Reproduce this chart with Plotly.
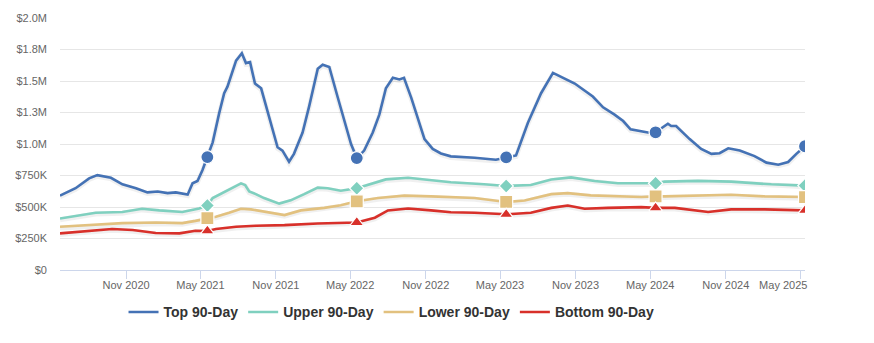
import plotly.graph_objects as go

# ---------------- data ----------------
top_dates = ["2020-05-24","2020-07-01","2020-08-03","2020-08-23","2020-09-25","2020-10-23","2020-11-25",
             "2020-12-23","2021-01-17","2021-02-10","2021-03-02","2021-03-31","2021-04-12","2021-04-24",
             "2021-05-06","2021-05-18","2021-05-31","2021-06-16","2021-06-28","2021-07-06","2021-07-27",
             "2021-08-10","2021-08-20","2021-08-30","2021-09-11","2021-09-26","2021-10-13","2021-11-05",
             "2021-11-17","2021-12-03","2021-12-15","2022-01-05","2022-01-21","2022-02-11","2022-02-23",
             "2022-03-11","2022-03-31","2022-04-21","2022-05-03","2022-05-17","2022-06-04","2022-06-25",
             "2022-07-11","2022-07-27","2022-08-13","2022-08-29","2022-09-09","2022-09-27","2022-10-13",
             "2022-10-29","2022-11-18","2022-12-08","2023-01-01","2023-02-28","2023-04-21","2023-05-16",
             "2023-06-09","2023-07-08","2023-08-09","2023-09-07","2023-10-05","2023-10-30","2023-12-13",
             "2024-01-07","2024-02-04","2024-02-25","2024-03-14","2024-04-09","2024-04-25","2024-05-14",
             "2024-06-01","2024-06-13","2024-06-21","2024-07-03","2024-08-05","2024-09-02","2024-09-27",
             "2024-10-17","2024-11-07","2024-12-05","2025-01-10","2025-02-08","2025-03-09","2025-04-02",
             "2025-04-22","2025-05-13"]
top_values = [590, 649, 727, 753, 732, 680, 649,
              616, 623, 610, 616, 598, 688, 707,
              792, 896, 1013, 1247, 1403, 1455, 1662,
              1720, 1642, 1650, 1480, 1442, 1247, 974,
              948, 860, 922, 1091, 1299, 1597, 1629,
              1611, 1377, 1130, 1000, 888, 948, 1091,
              1233, 1442, 1525, 1512, 1525, 1364, 1194,
              1039, 961, 925, 902, 891, 875, 894,
              909, 1169, 1403, 1564, 1519, 1480, 1377,
              1291, 1233, 1182, 1117, 1099, 1091, 1093,
              1138, 1161, 1143, 1143, 1039, 961, 922,
              927, 966, 948, 904, 852, 836, 857,
              922, 982]

upper_dates = ["2020-05-24","2020-07-01","2020-08-19","2020-10-23","2020-12-10","2021-01-21","2021-03-18",
               "2021-04-28","2021-05-18","2021-05-31","2021-07-10","2021-08-08","2021-08-18","2021-08-28",
               "2021-09-13","2021-10-03","2021-11-09","2021-12-07","2022-01-09","2022-02-11","2022-03-07",
               "2022-04-08","2022-05-17","2022-06-13","2022-07-27","2022-09-19","2022-11-14","2023-01-01",
               "2023-03-23","2023-05-16","2023-07-15","2023-09-03","2023-10-21","2023-12-17","2024-02-12",
               "2024-04-09","2024-05-14","2024-06-05","2024-08-25","2024-11-14","2025-02-20","2025-05-13"]
upper_values = [408, 429, 454, 460, 486, 473, 460,
                488, 512, 571, 637, 688, 675, 623,
                602, 571, 527, 553, 602, 654, 649,
                629, 649, 675, 719, 732, 714, 696,
                680, 667, 675, 719, 735, 707, 688,
                688, 688, 701, 707, 701, 680, 670]

lower_dates = ["2020-05-24","2020-08-03","2020-10-23","2021-01-12","2021-03-18","2021-04-19","2021-05-18",
               "2021-06-08","2021-07-10","2021-08-08","2021-09-01","2021-09-13","2021-10-12","2021-11-22",
               "2022-01-01","2022-02-27","2022-04-08","2022-05-17","2022-07-08","2022-09-10","2022-11-14",
               "2023-01-01","2023-02-28","2023-05-16","2023-06-30","2023-09-03","2023-10-13","2023-12-08",
               "2024-04-09","2024-05-14","2024-06-05","2024-11-14","2025-02-04","2025-05-13"]
lower_values = [343, 356, 372, 377, 372, 390, 411,
                423, 454, 486, 481, 475, 462, 436,
                473, 493, 514, 545, 571, 590, 584,
                579, 571, 540, 551, 602, 610, 592,
                579, 584, 584, 597, 584, 579]

bottom_dates = ["2020-05-24","2020-08-03","2020-09-28","2020-11-17","2021-01-12","2021-03-11","2021-04-19",
                "2021-05-18","2021-06-08","2021-07-27","2021-09-13","2021-11-22","2022-02-11","2022-05-17",
                "2022-06-30","2022-08-01","2022-09-19","2022-11-14","2023-01-01","2023-02-28","2023-05-16",
                "2023-07-15","2023-09-03","2023-10-13","2023-11-23","2024-01-19","2024-04-09","2024-05-14",
                "2024-06-30","2024-09-19","2024-11-14","2025-02-04","2025-05-13"]
bottom_values = [291, 312, 325, 317, 294, 291, 312,
                 310, 325, 343, 351, 356, 369, 377,
                 415, 473, 488, 473, 458, 454, 442,
                 454, 493, 512, 486, 493, 499, 493,
                 493, 460, 481, 481, 473]

marker_dates = ["2021-05-18", "2022-05-17", "2023-05-16", "2024-05-14", "2025-05-13"]

series_names = ["Top 90-Day", "Upper 90-Day", "Lower 90-Day", "Bottom 90-Day"]
series_colors = ["#4472b5", "#7fd0bf", "#e2c17f", "#d8302a"]
series_symbols = ["circle", "diamond", "square", "triangle-up"]
series_msizes = [13, 11, 13, 12]

y_tickvals = [0, 250000, 500000, 750000, 1000000, 1250000, 1500000, 1750000, 2000000]
y_ticktext = ["$0", "$250K", "$500K", "$750K", "$1.0M", "$1.3M", "$1.5M", "$1.8M", "$2.0M"]

x_tickvals = ["2020-11-01", "2021-05-01", "2021-11-01", "2022-05-01", "2022-11-01",
              "2023-05-01", "2023-11-01", "2024-05-01", "2024-11-01", "2025-05-01"]
x_ticktext = ["Nov 2020", "May 2021", "Nov 2021", "May 2022", "Nov 2022",
              "May 2023", "Nov 2023", "May 2024", "Nov 2024",
              "May 2025" + "\u00a0" * 11]  # last label kept inside the plot edge

# ---------------- figure ----------------
fig = go.Figure()
all_series = [(top_dates, top_values), (upper_dates, upper_values),
              (lower_dates, lower_values), (bottom_dates, bottom_values)]

for (dates, vals), name, color, sym, ms in zip(all_series, series_names, series_colors,
                                                 series_symbols, series_msizes):
    yv = [v * 1000 for v in vals]
    # subtle shadow like the original
    fig.add_trace(go.Scatter(x=dates, y=[v - 9000 for v in yv], mode="lines",
                             line=dict(color="rgba(0,0,0,0.06)", width=5),
                             showlegend=False, hoverinfo="skip"))
    fig.add_trace(go.Scatter(x=dates, y=yv, mode="lines", name=name,
                             line=dict(color=color, width=2.6), legendgroup=name))
    mx = [d for d in dates if d in marker_dates]
    my = [yv[dates.index(d)] for d in mx]
    fig.add_trace(go.Scatter(x=mx, y=my, mode="markers", showlegend=False, legendgroup=name,
                             marker=dict(symbol=sym, size=ms, color=color,
                                         line=dict(color="white", width=1.2))))

fig.update_layout(
    width=874, height=343,
    margin=dict(l=60, r=69, t=13, b=73),
    paper_bgcolor="white", plot_bgcolor="white",
    font=dict(family="Liberation Sans, Arial, sans-serif", color="#666666", size=11),
    showlegend=True,
    legend=dict(orientation="h", x=0.445, xanchor="center", y=-0.168, yanchor="middle",
                font=dict(size=14, color="#333333", family="Liberation Sans, Arial, sans-serif",
                          weight="bold"),
                itemwidth=30, tracegroupgap=0, bgcolor="rgba(0,0,0,0)"),
)
fig.update_xaxes(
    type="date", range=[top_dates[0], top_dates[-1]],
    tickvals=x_tickvals, ticktext=x_ticktext,
    showgrid=False, showline=True, linecolor="#ccd6eb", linewidth=1,
    ticks="outside", ticklen=8, tickcolor="#ccd6eb", tickwidth=1,
    ticklabelstandoff=-3,
    tickfont=dict(size=11, color="#666666"), zeroline=False,
)
fig.update_yaxes(
    range=[0, 2000000], tickvals=y_tickvals, ticktext=y_ticktext,
    showgrid=True, gridcolor="#e6e6e6", gridwidth=1, zeroline=False,
    showline=False, ticks="", ticklabelstandoff=12,
    tickfont=dict(size=11, color="#666666"),
)

fig.write_html("out.html")
